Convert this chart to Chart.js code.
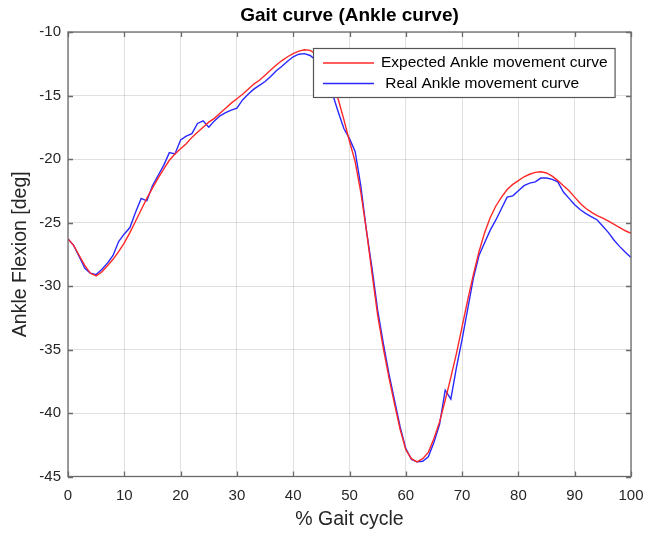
<!DOCTYPE html>
<html><head><meta charset="utf-8">
<script src="https://cdn.jsdelivr.net/npm/chart.js@4/dist/chart.umd.min.js"></script>
<style>html,body{margin:0;padding:0;background:#fff}#wrap{width:645px;height:534px}</style>
</head><body><div id="wrap"><canvas id="c" width="645" height="534"></canvas></div>
<script>
const titleText = 'Gait curve (Ankle curve)';
const xTitle = '% Gait cycle';
const yTitle = 'Ankle Flexion [deg]';
const seriesLabels = ['Expected Ankle movement curve', ' Real Ankle movement curve'];
const xTicks = [0,10,20,30,40,50,60,70,80,90,100];
const yTicks = [-45,-40,-35,-30,-25,-20,-15,-10];
const pct = [0,1,2,3,4,5,6,7,8,9,10,11,12,13,14,15,16,17,18,19,20,21,22,23,24,25,26,27,28,29,30,31,32,33,34,35,36,37,38,39,40,41,42,43,44,45,46,47,48,49,50,51,52,53,54,55,56,57,58,59,60,61,62,63,64,65,66,67,68,69,70,71,72,73,74,75,76,77,78,79,80,81,82,83,84,85,86,87,88,89,90,91,92,93,94,95,96,97,98,99,100];
const expected = [-26.3,-26.8,-27.6,-28.4,-29.0,-29.2,-28.9,-28.4,-27.9,-27.3,-26.6,-25.8,-24.9,-24.0,-23.1,-22.3,-21.5,-20.8,-20.1,-19.6,-19.2,-18.8,-18.3,-17.9,-17.5,-17.1,-16.8,-16.4,-16.0,-15.6,-15.25,-14.9,-14.5,-14.1,-13.8,-13.4,-13.0,-12.6,-12.25,-11.95,-11.7,-11.5,-11.4,-11.45,-11.7,-12.3,-13.2,-14.2,-15.3,-16.9,-18.6,-20.2,-22.6,-25.6,-29.0,-32.3,-34.9,-37.2,-39.3,-41.3,-42.9,-43.6,-43.85,-43.6,-43.1,-42.0,-40.7,-39.0,-37.2,-35.3,-33.2,-31.1,-29.1,-27.3,-25.8,-24.6,-23.7,-23.0,-22.4,-22.0,-21.7,-21.4,-21.2,-21.05,-21.0,-21.1,-21.35,-21.7,-22.1,-22.5,-23.0,-23.5,-23.9,-24.2,-24.45,-24.65,-24.9,-25.15,-25.4,-25.65,-25.85];
const real = [-26.3,-26.8,-27.7,-28.6,-29.0,-29.1,-28.7,-28.2,-27.6,-26.5,-25.9,-25.4,-24.2,-23.1,-23.3,-22.1,-21.3,-20.5,-19.5,-19.6,-18.5,-18.2,-18.0,-17.2,-17.0,-17.5,-17.0,-16.6,-16.35,-16.15,-16.0,-15.35,-14.9,-14.5,-14.2,-13.9,-13.5,-13.05,-12.7,-12.3,-11.95,-11.75,-11.7,-11.85,-12.2,-12.9,-13.9,-14.9,-16.3,-17.6,-18.4,-19.4,-22.1,-25.6,-28.6,-31.9,-34.5,-36.9,-39.0,-41.1,-42.8,-43.65,-43.85,-43.8,-43.45,-42.3,-40.9,-38.2,-38.9,-36.4,-34.2,-31.8,-29.4,-27.6,-26.6,-25.6,-24.8,-23.9,-23.0,-22.9,-22.5,-22.1,-21.9,-21.8,-21.5,-21.5,-21.6,-21.8,-22.6,-23.1,-23.6,-24.0,-24.3,-24.55,-24.8,-25.3,-25.8,-26.4,-26.9,-27.35,-27.75];

const FONT = "'Liberation Sans', Arial, Helvetica, sans-serif";
const RED = 'rgb(255,40,40)';
const BLUE = 'rgb(40,40,255)';
const AXIS = '#6a6a6a';

const frame = {
  id: 'frame',
  afterDatasetsDraw(chart) {
    const {ctx, chartArea: a, scales: {x, y}} = chart;
    ctx.save();
    ctx.strokeStyle = AXIS;
    ctx.lineWidth = 1.3;
    const L = 5;
    ctx.beginPath();
    xTicks.forEach(v => {
      const px = Math.round(x.getPixelForValue(v)) + 0.5;
      ctx.moveTo(px, a.bottom); ctx.lineTo(px, a.bottom - L);
      ctx.moveTo(px, a.top); ctx.lineTo(px, a.top + L);
    });
    yTicks.forEach(v => {
      const py = Math.round(y.getPixelForValue(v)) + 0.5;
      ctx.moveTo(a.left, py); ctx.lineTo(a.left + L, py);
      ctx.moveTo(a.right, py); ctx.lineTo(a.right - L, py);
    });
    ctx.stroke();
    ctx.strokeRect(a.left, a.top, a.right - a.left, a.bottom - a.top);
    // title
    ctx.fillStyle = '#000';
    ctx.font = 'bold 19px ' + FONT;
    ctx.textAlign = 'center';
    ctx.textBaseline = 'middle';
    ctx.fillText(titleText, (a.left + a.right) / 2, 16);
    // legend
    ctx.font = '15.5px ' + FONT;
    const w = Math.max(...seriesLabels.map(s => ctx.measureText(s).width));
    const bx = 313, by = 48, tx = 381;
    const bw = tx + w + 7 - bx, bh = 49;
    ctx.fillStyle = '#fff';
    ctx.fillRect(bx, by, bw, bh);
    ctx.strokeStyle = '#555';
    ctx.lineWidth = 1.2;
    ctx.strokeRect(bx + 0.5, by + 0.5, bw, bh);
    const rows = [63, 83.5];
    const cols = [RED, BLUE];
    rows.forEach((ry, i) => {
      ctx.strokeStyle = cols[i];
      ctx.lineWidth = 1.4;
      ctx.beginPath(); ctx.moveTo(323, ry); ctx.lineTo(374, ry); ctx.stroke();
      ctx.fillStyle = '#000';
      ctx.textAlign = 'left';
      ctx.fillText(seriesLabels[i], tx, ry);
    });
    ctx.restore();
  }
};

new Chart(document.getElementById('c'), {
  type: 'line',
  data: {
    datasets: [
      {label: seriesLabels[0], data: pct.map((p, i) => ({x: p, y: expected[i]})), borderColor: RED, borderWidth: 1.4, pointRadius: 0, tension: 0, fill: false},
      {label: seriesLabels[1], data: pct.map((p, i) => ({x: p, y: real[i]})), borderColor: BLUE, borderWidth: 1.4, pointRadius: 0, tension: 0, fill: false}
    ]
  },
  options: {
    responsive: false, animation: false, devicePixelRatio: 1,
    layout: {padding: {left: 0, right: 14, top: 32, bottom: 0}},
    plugins: {legend: {display: false}, title: {display: false}, tooltip: {enabled: false}},
    scales: {
      x: {
        type: 'linear', min: 0, max: 100,
        afterFit(s) { s.height = 57.5; s.paddingLeft = 0; s.paddingRight = 0; },
        afterBuildTicks(s) { s.ticks = xTicks.map(v => ({value: v})); },
        grid: {color: 'rgba(0,0,0,0.12)', drawTicks: false},
        border: {display: false},
        ticks: {font: {family: FONT, size: 15}, color: '#262626', padding: 10, maxRotation: 0, autoSkip: false},
        title: {display: true, text: xTitle, font: {family: FONT, size: 19.5}, color: '#262626', padding: {top: 0, bottom: 3}}
      },
      y: {
        type: 'linear', min: -45, max: -10,
        afterFit(s) { s.width = 68; s.paddingTop = 0; s.paddingBottom = 0; },
        afterBuildTicks(s) { s.ticks = yTicks.map(v => ({value: v})); },
        grid: {color: 'rgba(0,0,0,0.12)', drawTicks: false},
        border: {display: false},
        ticks: {font: {family: FONT, size: 15}, color: '#262626', padding: 7, autoSkip: false},
        title: {display: true, text: yTitle, font: {family: FONT, size: 19.5}, color: '#262626', padding: {top: 9, bottom: 0}}
      }
    }
  },
  plugins: [frame]
});
</script>
</body></html>
